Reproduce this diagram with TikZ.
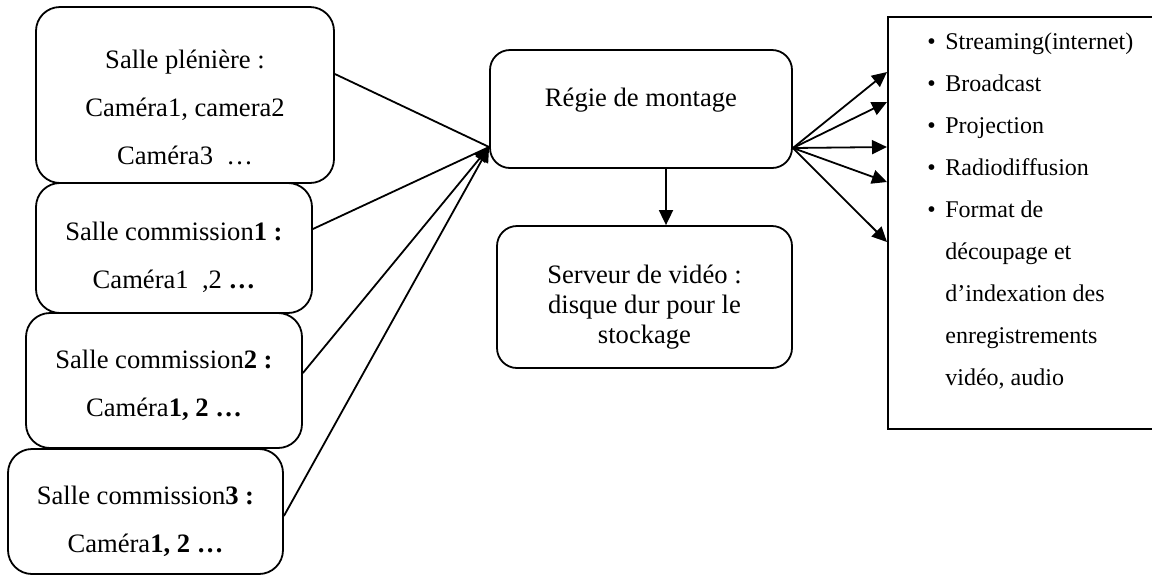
\documentclass[tikz,border=0pt]{standalone}
\usepackage{fontspec}
\setmainfont{Liberation Serif}
\usetikzlibrary{arrows.meta,calc}

\tikzset{
    salle/.style={draw, rounded corners=12pt, line width=0.9pt},
    regie/.style={draw, rounded corners=10pt, line width=0.9pt},
    txt/.style={align=center, inner sep=0pt, font=\fontsize{13.3}{24}\selectfont},
    arr/.style={-{Triangle[length=7.5pt,width=7pt]}, line width=0.9pt},
}
\newcommand{\puce}{\makebox[9pt][l]{\textbullet}}

\begin{document}
\begin{tikzpicture}[x=0.5pt, y=-0.5pt]
    \useasboundingbox (0,0) rectangle (1152,575);

    % les salles
    \node[salle, minimum width=149pt, minimum height=88pt](plen) at (185,95) {};
    \node[txt](plen_t) at (185,107) {Salle plénière :\\ Caméra1, camera2\\ Caméra3\ \ …};

    \node[salle, minimum width=138pt, minimum height=65pt](com1) at (174,248) {};
    \node[txt](com1_t) at (174,257) {Salle commission\textbf{1 :}\\ Caméra1\ \ ,2 \textbf{…}};

    \node[salle, minimum width=138pt, minimum height=67.5pt](com2) at (164,380.5) {};
    \node[txt](com2_t) at (164,385) {Salle commission\textbf{2 :}\\ Caméra\textbf{1, 2 …}};

    \node[salle, minimum width=137.5pt, minimum height=62.5pt](com3) at (145.5,511.5) {};
    \node[txt](com3_t) at (145.5,521) {Salle commission\textbf{3 :}\\ Caméra\textbf{1, 2 …}};

    % regie et serveur
    \node[regie, minimum width=151pt, minimum height=59pt](regie) at (641,109) {};
    \node[txt](regie_t) at (641,100) {Régie de montage};

    \node[regie, minimum width=147.5pt, minimum height=71pt](serveur) at (644.5,297) {};
    \node[txt, font=\fontsize{13.3}{15}\selectfont](serveur_t) at (644.5,307) {Serveur de vidéo :\\ disque dur pour le\\ stockage};

    % diffusion
    \node[draw, line width=0.9pt, anchor=north west, inner sep=0pt, minimum width=140pt, minimum height=206pt](diff) at (887,16) {};
    \node[anchor=north west, align=left, inner sep=0pt, font=\fontsize{12}{21}\selectfont](diff_t) at (927,32) {\puce Streaming(internet)\\ \puce Broadcast\\ \puce Projection\\ \puce Radiodiffusion\\ \puce Format de\\ \hspace*{9pt}découpage et\\ \hspace*{9pt}d’indexation des\\ \hspace*{9pt}enregistrements\\ \hspace*{9pt}vidéo, audio};

    % liaisons
    \coordinate (in) at ([yshift=-19pt]regie.west);
    \coordinate (out) at ([yshift=-19.5pt]regie.east);
    \coordinate (down) at ([xshift=12.5pt]regie.south);

    \draw[line width=0.9pt] ([yshift=10.5pt]plen.east) -- (in);
    \draw[line width=0.9pt] ([yshift=9.5pt]com1.east) -- (in);
    \draw[arr] ([yshift=3.75pt]com2.east) -- (in);
    \draw[arr] ([yshift=-2.25pt]com3.east) -- (in);

    \draw[arr] (down) -- (down |- serveur.north);

    \foreach \dy in {56,86,131,166,226}
        \draw[arr] (out) -- ($(diff.north west)+(0,\dy)$);

\end{tikzpicture}
\end{document}
